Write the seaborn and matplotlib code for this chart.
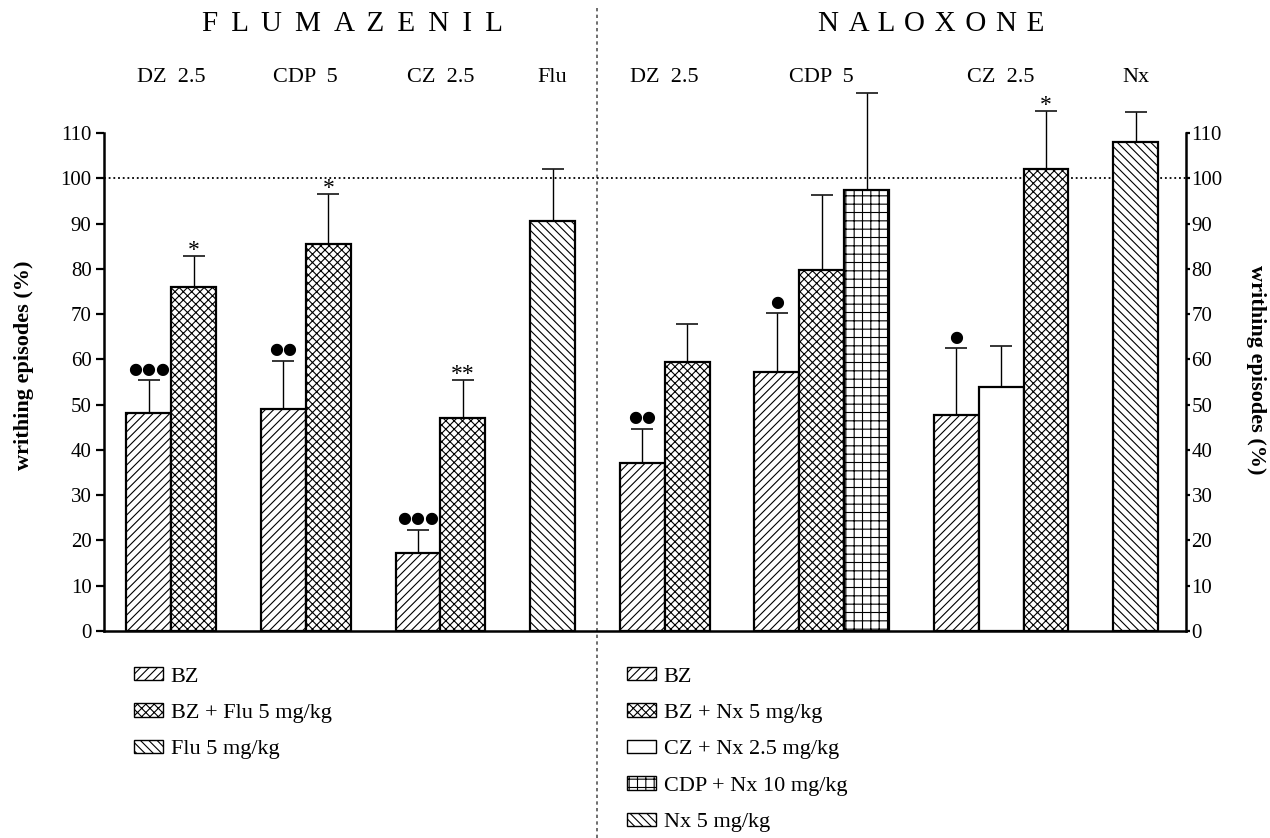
import numpy as np
import pandas as pd
import matplotlib
matplotlib.use("Agg")
import matplotlib.pyplot as plt
import matplotlib.transforms as mtransforms
from matplotlib.patches import Patch
import seaborn as sns

# ---------------- data ----------------
# Flumazenil experiment (one entry per bar, left to right)
flu_group = ["DZ  2.5", "DZ  2.5", "CDP  5", "CDP  5", "CZ  2.5", "CZ  2.5", "Flu"]
flu_treatment = ["BZ", "BZ + Flu 5 mg/kg", "BZ", "BZ + Flu 5 mg/kg",
                 "BZ", "BZ + Flu 5 mg/kg", "Flu 5 mg/kg"]
flu_mean = [48.2, 76.0, 49.0, 85.5, 17.2, 47.0, 90.5]
flu_sem = [7.2, 6.8, 10.7, 11.1, 5.1, 8.5, 11.5]
flu_sig = ["●●●", "*", "●●", "*", "●●●", "**", ""]

# Naloxone experiment
nx_group = ["DZ  2.5", "DZ  2.5", "CDP  5", "CDP  5", "CDP  5",
            "CZ  2.5", "CZ  2.5", "CZ  2.5", "Nx"]
nx_treatment = ["BZ", "BZ + Nx 5 mg/kg", "BZ", "BZ + Nx 5 mg/kg", "CDP + Nx 10 mg/kg",
                "BZ", "CZ + Nx 2.5 mg/kg", "BZ + Nx 5 mg/kg", "Nx 5 mg/kg"]
nx_mean = [37.0, 59.5, 57.3, 79.8, 97.4, 47.7, 54.0, 102.0, 108.1]
nx_sem = [7.6, 8.3, 12.9, 16.6, 21.5, 14.7, 9.0, 12.9, 6.5]
nx_sig = ["●●", "", "●", "", "", "●", "", "*", ""]

flu_legend = ["BZ", "BZ + Flu 5 mg/kg", "Flu 5 mg/kg"]
nx_legend = ["BZ", "BZ + Nx 5 mg/kg", "CZ + Nx 2.5 mg/kg", "CDP + Nx 10 mg/kg", "Nx 5 mg/kg"]

y_ticks = list(range(0, 111, 10))

# ---------------- styles ----------------
hatch_of = {
    "BZ": "////",
    "BZ + Flu 5 mg/kg": "xxxx",
    "Flu 5 mg/kg": "\\\\\\\\",
    "BZ + Nx 5 mg/kg": "xxxx",
    "CZ + Nx 2.5 mg/kg": "",
    "CDP + Nx 10 mg/kg": "++",
    "Nx 5 mg/kg": "\\\\\\\\",
}


def slot_positions(groups, start):
    """Consecutive bar slots, leaving one empty slot between groups."""
    pos, x, prev = [], start, None
    for g in groups:
        if prev is not None and g != prev:
            x += 1
        pos.append(x)
        x += 1
        prev = g
    return pos, x


flu_pos, divider = slot_positions(flu_group, 1)
nx_pos, end = slot_positions(nx_group, divider + 1)

df = pd.concat([
    pd.DataFrame({"pos": flu_pos, "group": flu_group, "treatment": flu_treatment,
                  "mean": flu_mean, "sem": flu_sem, "sig": flu_sig, "panel": "FLUMAZENIL"}),
    pd.DataFrame({"pos": nx_pos, "group": nx_group, "treatment": nx_treatment,
                  "mean": nx_mean, "sem": nx_sem, "sig": nx_sig, "panel": "NALOXONE"}),
], ignore_index=True)

# ---------------- figure ----------------
sns.set_style("white")
plt.rcParams["font.family"] = ["Liberation Serif", "DejaVu Sans"]
plt.rcParams["hatch.linewidth"] = 0.8
for key in ["text.color", "axes.labelcolor", "xtick.color", "ytick.color",
            "axes.edgecolor", "hatch.color"]:
    plt.rcParams[key] = "black"

W, H = 1270, 838
fig = plt.figure(figsize=(W / 100, H / 100), dpi=100)
ax = fig.add_axes([104 / W, (H - 631) / H, 1082 / W, 543.3 / H])

sns.barplot(data=df, x="pos", y="mean", native_scale=True, width=1.0,
            color="white", saturation=1, edgecolor="black", linewidth=1.6,
            errorbar=None, ax=ax, zorder=3)

for patch in ax.patches:
    cx = patch.get_x() + patch.get_width() / 2
    row = df.iloc[(df["pos"] - cx).abs().argmin()]
    patch.set_hatch(hatch_of[row["treatment"]])
    patch.set_facecolor("white")
    patch.set_edgecolor("black")

# upper error bars only
ax.errorbar(df["pos"], df["mean"], yerr=[np.zeros(len(df)), df["sem"]],
            fmt="none", ecolor="black", elinewidth=1.0, capsize=8, capthick=1.1,
            zorder=2)

# significance symbols
for _, r in df.iterrows():
    if not r["sig"]:
        continue
    top = r["mean"] + r["sem"]
    if "●" in r["sig"]:
        ax.annotate(r["sig"], xy=(r["pos"], top), xytext=(0, 8), textcoords="offset points",
                    ha="center", va="center", fontsize=11.5, family=["DejaVu Sans"],
                    color="black", annotation_clip=False)
    else:
        ax.annotate(r["sig"], xy=(r["pos"], top), xytext=(0, 0), textcoords="offset points",
                    ha="center", va="baseline", fontsize=17, color="black",
                    annotation_clip=False)

# 100 % reference line
ax.axhline(100, color="black", linestyle=(0, (1, 1.6)), linewidth=1.3, zorder=1)

ax.set_xlim(0, 24.12)
ax.set_ylim(0, 120)
ax.set_xticks([])
ax.set_xlabel("")
ax.set_ylabel("")
ax.set_yticks(y_ticks)
ax.tick_params(axis="y", direction="out", length=6, width=1.6, labelsize=15, pad=3,
               left=True, colors="black")
for s in ["top", "right"]:
    ax.spines[s].set_visible(False)
ax.spines["left"].set_bounds(0, 110)
for s in ["left", "bottom"]:
    ax.spines[s].set_linewidth(1.8)
    ax.spines[s].set_color("black")

ax2 = ax.twinx()
ax2.set_ylim(0, 120)
ax2.set_yticks(y_ticks)
ax2.tick_params(axis="y", direction="out", length=3, width=1.6, labelsize=15, pad=1,
                colors="black")
for s in ["top", "left", "bottom"]:
    ax2.spines[s].set_visible(False)
ax2.spines["right"].set_bounds(0, 110)
ax2.spines["right"].set_linewidth(1.8)
ax2.spines["right"].set_color("black")

# vertical separator between the two experiments
sep_tr = mtransforms.blended_transform_factory(ax.transData, fig.transFigure)
ax.plot([divider, divider], [0, 1 - 7 / H], transform=sep_tr, color="#555555",
        linestyle=(0, (2, 2)), linewidth=1.2, clip_on=False, zorder=0)

# group labels and panel titles
for panel, sub in df.groupby("panel", sort=False):
    for g, gsub in sub.groupby("group", sort=False):
        ax.text(gsub["pos"].mean(), 1 - 77 / H, g, transform=sep_tr,
                ha="center", va="center", fontsize=16)

fig.text(353 / W, 1 - 24 / H, " \u2009".join("FLUMAZENIL"), ha="center", va="center",
         fontsize=21)
fig.text(931 / W, 1 - 24 / H, " \u200a".join("NALOXONE"), ha="center", va="center",
         fontsize=21)

fig.text(24 / W, 1 - 365 / H, "writhing episodes (%)", rotation=90, ha="center",
         va="center", fontsize=16, fontweight="bold")
fig.text(1256 / W, 1 - 370 / H, "writhing episodes (%)", rotation=270, ha="center",
         va="center", fontsize=16, fontweight="bold")


# legends
def handles_for(labels):
    return [Patch(facecolor="white", edgecolor="black", hatch=hatch_of[l], linewidth=1.0,
                  label=l) for l in labels]


leg_kw = dict(frameon=False, fontsize=16, handlelength=1.3, handleheight=0.55,
              handletextpad=0.35, labelspacing=0.76, borderaxespad=0, borderpad=0,
              loc="upper left")
fig.legend(handles=handles_for(flu_legend), bbox_to_anchor=(134 / W, 1 - 667 / H), **leg_kw)
fig.legend(handles=handles_for(nx_legend), bbox_to_anchor=(627 / W, 1 - 667 / H), **leg_kw)

fig.savefig("out.png", dpi=100)
